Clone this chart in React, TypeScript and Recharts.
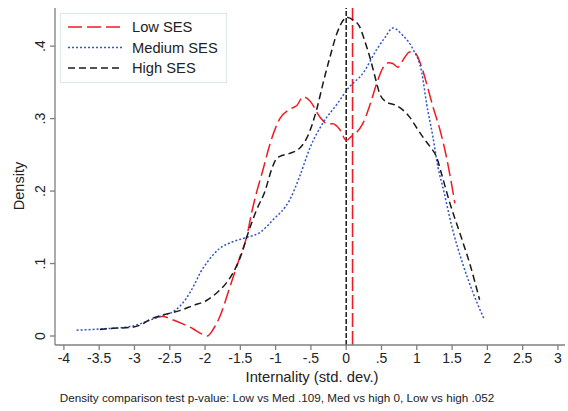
import { Line, LineChart, ReferenceLine, XAxis, YAxis } from "recharts";

// Kernel density de internalidade por SES (Stata).
const lowX = [-2.72, -2.6, -2.45, -2.3, -2.17, -2.05, -1.97, -1.88, -1.79, -1.65, -1.51, -1.41, -1.34, -1.27, -1.18, -1.08, -0.94, -0.8, -0.7, -0.61, -0.52, -0.37, -0.27, -0.19, -0.09, 0.0, 0.07, 0.15, 0.24, 0.34, 0.43, 0.52, 0.6, 0.66, 0.73, 0.8, 0.9, 0.97, 1.07, 1.14, 1.23, 1.33, 1.42, 1.47, 1.54];
const lowY = [0.025, 0.027, 0.022, 0.016, 0.01, 0.003, 0.0, 0.01, 0.027, 0.067, 0.108, 0.137, 0.17, 0.198, 0.229, 0.265, 0.3, 0.313, 0.318, 0.33, 0.325, 0.302, 0.293, 0.293, 0.285, 0.27, 0.275, 0.281, 0.294, 0.32, 0.348, 0.37, 0.377, 0.376, 0.371, 0.38, 0.392, 0.391, 0.371, 0.348, 0.316, 0.284, 0.247, 0.222, 0.183];

const medX = [-3.82, -3.49, -3.06, -2.78, -2.64, -2.43, -2.28, -2.14, -2.07, -1.96, -1.79, -1.61, -1.41, -1.22, -1.04, -0.8, -0.66, -0.52, -0.33, -0.13, 0.03, 0.24, 0.43, 0.55, 0.66, 0.8, 0.95, 1.07, 1.14, 1.23, 1.3, 1.37, 1.51, 1.65, 1.8, 1.96];
const medY = [0.008, 0.0097, 0.013, 0.022, 0.027, 0.035, 0.05, 0.073, 0.087, 0.103, 0.121, 0.13, 0.136, 0.143, 0.16, 0.188, 0.22, 0.258, 0.294, 0.32, 0.342, 0.363, 0.395, 0.412, 0.425, 0.415, 0.395, 0.364, 0.32, 0.274, 0.233, 0.205, 0.146, 0.1, 0.059, 0.022];

const highX = [-3.49, -3.3, -3.04, -2.92, -2.78, -2.6, -2.36, -2.17, -1.98, -1.84, -1.7, -1.61, -1.48, -1.39, -1.27, -1.15, -1.06, -1.0, -0.94, -0.8, -0.66, -0.54, -0.42, -0.33, -0.23, -0.13, -0.04, 0.0, 0.1, 0.19, 0.26, 0.34, 0.41, 0.48, 0.57, 0.71, 0.8, 0.9, 1.0, 1.09, 1.19, 1.28, 1.35, 1.47, 1.61, 1.75, 1.89];
const highY = [0.009, 0.0106, 0.012, 0.015, 0.023, 0.029, 0.035, 0.042, 0.049, 0.059, 0.073, 0.086, 0.114, 0.142, 0.174, 0.2, 0.229, 0.243, 0.248, 0.252, 0.259, 0.277, 0.312, 0.348, 0.385, 0.418, 0.436, 0.44, 0.436, 0.427, 0.408, 0.383, 0.357, 0.333, 0.323, 0.318, 0.312, 0.302, 0.287, 0.274, 0.261, 0.247, 0.224, 0.183, 0.142, 0.1, 0.05];

// Médias (linhas verticais)
const meanLow = 0.09;
const meanHigh = 0.0;

const xTicks = [-4, -3.5, -3, -2.5, -2, -1.5, -1, -0.5, 0, 0.5, 1, 1.5, 2, 2.5, 3];
const yTicks = [0, 0.1, 0.2, 0.3, 0.4];

const FONT = "'Liberation Sans', Arial, sans-serif";
const AXIS = "#7f7f7f";

const COR = {
  low: "#ec1c24",
  med: "#3155c4",
  high: "#1a1a1a",
} as const;

const series = [
  { key: "low", name: "Low SES", xs: lowX, ys: lowY, color: COR.low, dash: "14 5" },
  { key: "med", name: "Medium SES", xs: medX, ys: medY, color: COR.med, dash: "2 2" },
  { key: "high", name: "High SES", xs: highX, ys: highY, color: COR.high, dash: "7 4" },
];

const fmt = (v: number) => (v === 0 ? "0" : String(v).replace(/^(-?)0\./, "$1."));

function YTick({ x, y, payload }: { x?: number; y?: number; payload?: { value: number } }) {
  return (
    <text
      x={x}
      y={y}
      transform={`rotate(-90 ${x} ${y})`}
      textAnchor="middle"
      fontSize={14}
      fontFamily={FONT}
      fill="#222"
    >
      {fmt(payload?.value ?? 0)}
    </text>
  );
}

export default function App() {
  return (
    <div style={{ position: "absolute", left: 0, top: 0, width: 568, height: 411, background: "#fff", fontFamily: FONT }}>
      <LineChart width={568} height={411} margin={{ top: 8, right: 3, bottom: 0, left: 0 }}>
        <XAxis
          type="number"
          dataKey="x"
          domain={[-4.126, 3.1]}
          ticks={xTicks}
          tickFormatter={fmt}
          allowDataOverflow
          height={66}
          tickSize={5}
          tickMargin={3}
          stroke={AXIS}
          strokeWidth={1.3}
          tick={{ fontSize: 14, fill: "#222", fontFamily: FONT }}
        />
        <YAxis
          type="number"
          domain={[-0.0124, 0.4526]}
          ticks={yTicks}
          allowDataOverflow
          width={55}
          tickSize={5}
          tickMargin={5}
          stroke={AXIS}
          strokeWidth={1.3}
          tick={<YTick />}
        />
        <ReferenceLine x={meanHigh} stroke={COR.high} strokeWidth={1.5} strokeDasharray="5 2" />
        <ReferenceLine x={meanLow} stroke={COR.low} strokeWidth={1.6} strokeDasharray="14 4" />
        {series.map((s) => (
          <Line
            key={s.key}
            data={s.xs.map((x, i) => ({ x, y: s.ys[i] }))}
            dataKey="y"
            name={s.name}
            type="monotone"
            stroke={s.color}
            strokeWidth={1.5}
            strokeDasharray={s.dash}
            dot={false}
            isAnimationActive={false}
          />
        ))}
      </LineChart>

      {/* legenda */}
      <div
        style={{
          position: "absolute",
          left: 60,
          top: 13,
          width: 165,
          height: 68,
          border: "1px solid #dde9e9",
          background: "#fff",
        }}
      >
        <svg width={165} height={68}>
          {series.map((s, i) => (
            <g key={s.key}>
              <line x1={7} x2={61} y1={13 + i * 20.5} y2={13 + i * 20.5} stroke={s.color} strokeWidth={1.5} strokeDasharray={s.dash} />
              <text x={71} y={13 + i * 20.5 + 5} fontSize={14.7} fontFamily={FONT} fill="#222">
                {s.name}
              </text>
            </g>
          ))}
        </svg>
      </div>

      <div
        style={{
          position: "absolute",
          left: 19,
          top: 186,
          transform: "translate(-50%, -50%) rotate(-90deg)",
          fontSize: 14.5,
          color: "#222",
          whiteSpace: "nowrap",
        }}
      >
        Density
      </div>
      <div
        style={{
          position: "absolute",
          left: 312,
          top: 377,
          transform: "translate(-50%, -50%)",
          fontSize: 14.8,
          color: "#222",
          whiteSpace: "nowrap",
        }}
      >
        Internality (std. dev.)
      </div>
      <div
        style={{
          position: "absolute",
          left: 277,
          top: 397,
          transform: "translate(-50%, -50%)",
          fontSize: 11.7,
          color: "#222",
          whiteSpace: "nowrap",
        }}
      >
        Density comparison test p-value: Low vs Med .109, Med vs high 0, Low vs high .052
      </div>
    </div>
  );
}
